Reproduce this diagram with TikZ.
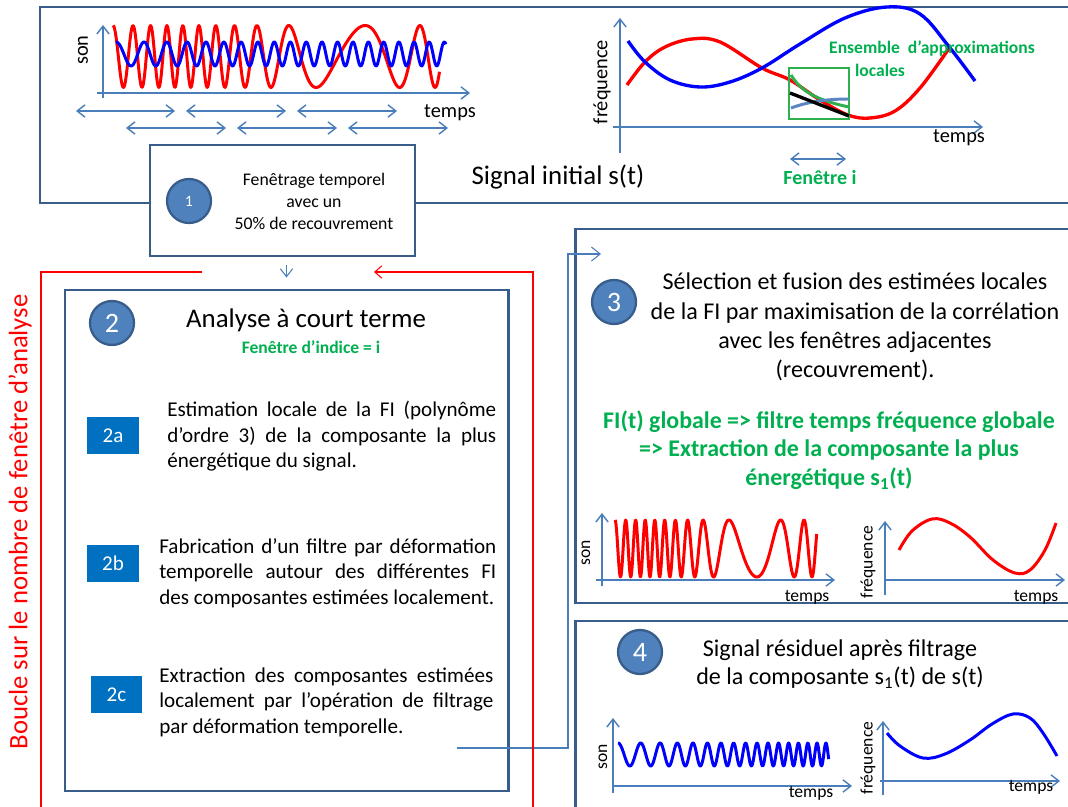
\documentclass[tikz,border=0pt]{standalone}
\usepackage{fontspec}
\setmainfont{Carlito}
\usepackage{tikz}
\usetikzlibrary{positioning, arrows.meta, calc, fit}
\definecolor{PanelEdge}{HTML}{385D8A}
\definecolor{StepFill}{HTML}{4F81BD}
\definecolor{TagFill}{HTML}{0070C0}
\definecolor{AxisBlue}{HTML}{4A7EBB}
\definecolor{NoteGreen}{HTML}{00B050}
\definecolor{WaveRed}{HTML}{FF0000}
\definecolor{WaveBlue}{HTML}{0000FF}
\definecolor{ApproxBlue}{HTML}{5B86C1}
\definecolor{ApproxGreen}{HTML}{2EB04E}

\newcommand{\jline}[2]{\makebox[#1][s]{#2}}

\tikzset{
  panel/.style={draw=PanelEdge, line width=1.7pt, fill=white, inner sep=0pt},
  stepnum/.style={circle, fill=StepFill, draw=PanelEdge, line width=1.3pt,
    minimum size=0.88cm, inner sep=0pt, text=white},
  tagbox/.style={fill=TagFill, text=white, minimum width=1.04cm,
    minimum height=0.74cm, inner sep=0pt, font=\fontsize{12}{14}\selectfont},
  barb/.tip={Straight Barb[length=4.5pt,width=7pt]},
  plotaxis/.style={AxisBlue, line width=0.8pt, -barb},
  winspan/.style={AxisBlue, line width=0.8pt, barb-barb},
  wave/.style={line width=1.7pt, line join=round},
  loopline/.style={WaveRed, line width=0.6pt},
  feedline/.style={AxisBlue, line width=0.6pt},
  bodytext/.style={font=\fontsize{13.7}{16.6}\selectfont, align=center},
  greennote/.style={text=NoteGreen, font=\bfseries\fontsize{10}{12}\selectfont},
  smalllbl/.style={font=\fontsize{10}{12}\selectfont},
  biglbl/.style={font=\fontsize{11.6}{14}\selectfont},
}

\begin{document}
\begin{tikzpicture}[x=0.02cm, y=-0.02cm]
  \useasboundingbox (0,0) rectangle (1068,807);

  %% Signal initial panel
  \node[panel, fit={(40,7) (1072,203)}] (sigBox) {};
  \node[font=\fontsize{15.3}{18}\selectfont] (sigTitle) at (558,177) {Signal initial s(t)};

  % sound axes (left)
  \draw[plotaxis] (103,98) -- (103,25);
  \draw[plotaxis] (97,93) -- (470,93);
  \node[biglbl, rotate=90] at (83,50) {son};
  \node[biglbl] at (450,113) {temps};

  % two mixed components
  \draw[wave, WaveRed] plot[domain=0:1, samples=400, variable=\u]
    ({113+327*\u}, {56.5-31*cos(4237.9*\u + 526.1*(sin(346.15*(\u-0.2)) + 0.93502))});
  \draw[wave, WaveBlue] plot[domain=0:1, samples=500, variable=\u]
    ({116+330*\u}, {54-12*cos(7959.6*\u - 1098.9*(1-exp(-4*\u)))});

  % overlapping windows
  \foreach \xa/\xb/\yy in {76/175/111, 186/286/111, 297/397/111,
                           126/226/128, 237/337/128, 348/448/128}{
    \draw[winspan] (\xa,\yy) -- (\xb,\yy);
  }

  % time-frequency axes (right)
  \draw[plotaxis] (620,153) -- (620,18);
  \draw[plotaxis] (613,127) -- (983,127);
  \node[biglbl, rotate=90] at (602,82) {fréquence};
  \node[biglbl] at (959,138) {temps};

  \draw[wave, WaveRed, line width=1.9pt] plot[smooth, tension=0.6] coordinates {
    (627,85) (645,62) (665,47) (692,39) (720,42) (762,68) (790,80)
    (820,100) (848,115) (870,118) (895,111) (920,88) (950,47)};
  \draw[wave, WaveBlue, line width=1.9pt] plot[smooth, tension=0.6] coordinates {
    (628,41) (645,62) (670,80) (700,87) (730,82) (762,68) (800,44)
    (845,18) (887,7) (920,14) (950,48) (975,81)};

  % local approximations
  \draw[ApproxGreen, line width=1.5pt] (789,68) rectangle (849,119);
  \draw[ApproxGreen, line width=1.7pt] (791,75) .. controls (800,90) and (815,100) .. (849,107);
  \draw[ApproxBlue, line width=1.7pt] (791,108) .. controls (810,101) and (830,99) .. (849,99);
  \draw[black, line width=1.9pt] (790,93) -- (849,116);
  \node[greennote] at (932,48) {Ensemble\ \ d’approximations};
  \node[greennote] at (880,70) {locales};
  \draw[winspan] (790,159) -- (846,159);
  \node[greennote, font=\bfseries\fontsize{11.4}{13}\selectfont] at (820,178) {Fenêtre i};

  %% Step 1
  \node[panel, fit={(150,145) (415,256)}] (winBox) {};
  \node[stepnum, font=\fontsize{9}{10}\selectfont] (num1) at (189,201) {1};
  \node[align=center, font=\fontsize{10.1}{12.5}\selectfont] (winText) at (314,201)
    {Fenêtrage temporel\\avec un\\50\% de recouvrement};

  %% Step 2
  \node[panel, fit={(65,290) (508,791)}] (anaBox) {};
  \node[stepnum, font=\fontsize{16}{18}\selectfont] (num2) at (112,323) {2};
  \node[font=\fontsize{15.3}{18}\selectfont] (anaTitle) at (306,320) {Analyse à court terme};
  \node[greennote] (anaIdx) at (311,347) {Fenêtre d’indice = i};

  \node[tagbox] (tagA) at (113,435.5) {2a};
  \node[tagbox] (tagB) at (113,563.5) {2b};
  \node[tagbox] (tagC) at (116.5,694.5) {2c};

  \node[anchor=west, align=left, inner sep=0pt, font=\fontsize{12}{14.5}\selectfont] (txtA) at (167,436.5)
    {\jline{6.58cm}{Estimation locale de la FI (polynôme}\\
     \jline{6.58cm}{d’ordre 3) de la composante la plus}\\
     énergétique du signal.};
  \node[anchor=west, align=left, inner sep=0pt, font=\fontsize{12}{14.5}\selectfont] (txtB) at (159,573)
    {\jline{6.74cm}{Fabrication d’un filtre par déformation}\\
     \jline{6.74cm}{temporelle autour des différentes FI}\\
     des composantes estimées localement.};
  \node[anchor=west, align=left, inner sep=0pt, font=\fontsize{12}{14.5}\selectfont] (txtC) at (159,702)
    {\jline{6.68cm}{Extraction des composantes estimées}\\
     \jline{6.68cm}{localement par l’opération de filtrage}\\
     par déformation temporelle.};

  %% Step 3
  \node[panel, fit={(575,229) (1072,603)}] (selBox) {};
  \node[stepnum, font=\fontsize{16}{18}\selectfont] (num3) at (614,302) {3};
  \node[bodytext] (selText) at (855,327)
    {Sélection et fusion des estimées locales\\de la FI par maximisation de la corrélation\\
     avec les fenêtres adjacentes\\(recouvrement).};
  \node[align=center, text=NoteGreen, font=\bfseries\fontsize{13.6}{16.2}\selectfont] (selNote) at (829,450)
    {FI(t) globale => filtre temps fréquence globale\\=> Extraction de la composante la plus\\
     énergétique s\textsubscript{1}(t)};

  \draw[plotaxis] (602,586) -- (602,513);
  \draw[plotaxis] (596,580) -- (835,580);
  \node[smalllbl, rotate=90] at (586,553) {son};
  \node[smalllbl] at (807,597) {temps};
  \draw[wave, WaveRed] plot[domain=0:1, samples=400, variable=\u]
    ({615+202*\u}, {548.5-28.5*cos(4363.2*\u + 552.1*(sin(339.62*(\u-0.15)) + 0.7765))});

  \draw[plotaxis] (885,595) -- (885,521);
  \draw[plotaxis] (885,580) -- (1065,580);
  \node[smalllbl, rotate=90] at (868,562) {fréquence};
  \node[smalllbl] at (1036,597) {temps};
  \draw[wave, WaveRed] plot[smooth, tension=0.6] coordinates {
    (899,550) (912,531) (932,519) (950,523) (970,537) (993,560)
    (1015,573) (1030,570) (1045,550) (1056,523)};

  %% Step 4
  \node[panel, fit={(575,621) (1072,808)}] (resBox) {};
  \node[stepnum, font=\fontsize{16}{18}\selectfont] (num4) at (640,652) {4};
  \node[bodytext, font=\fontsize{13.7}{15.9}\selectfont] (resText) at (840,664)
    {Signal résiduel après filtrage\\de la composante s\textsubscript{1}(t) de s(t)};

  \draw[plotaxis] (613,793) -- (613,718);
  \draw[plotaxis] (613,786) -- (852,786);
  \node[smalllbl, rotate=90] at (603,757) {son};
  \node[smalllbl] at (811,793) {temps};
  \draw[wave, WaveBlue] plot[domain=0:1, samples=400, variable=\u]
    ({618+211*\u}, {754.5-11.5*cos(3038.4*\u + 2848.5*\u*\u)});

  \draw[plotaxis] (883,795) -- (883,721);
  \draw[plotaxis] (880,781) -- (1060,781);
  \node[smalllbl, rotate=90] at (868,758) {fréquence};
  \node[smalllbl] at (1031,787) {temps};
  \draw[wave, WaveBlue] plot[smooth, tension=0.6] coordinates {
    (887,733) (900,746) (923,758) (945,754) (970,740) (992,724)
    (1013,714) (1030,718) (1043,733) (1057,756)};

  %% Connectors
  \draw[feedline, -barb, shorten <=1.6mm, shorten >=2.2mm] (winBox.south -| anaBox.north) -- (anaBox.north);

  \coordinate (anaOut) at (457,748);
  \coordinate (selIn) at (601,254);
  \draw[feedline, -{Straight Barb[length=5pt,width=8pt]}] (anaOut) -| ($(selIn)+(-33,0)$) -- (selIn);

  % loop over the analysis windows
  \coordinate (loopOut) at (202,272);
  \coordinate (loopIn) at (374,272);
  \coordinate (loopBL) at (41,810);
  \coordinate (loopBR) at (533,810);
  \draw[loopline] (loopOut) -| (loopBL);
  \draw[loopline, -{Straight Barb[length=4pt,width=7pt]}] (loopBR) |- (loopIn);
  \node[rotate=90, text=WaveRed, font=\fontsize{15.2}{18}\selectfont] (loopLbl) at (20,522)
    {Boucle sur le nombre de fenêtre d’analyse};

\end{tikzpicture}
\end{document}
